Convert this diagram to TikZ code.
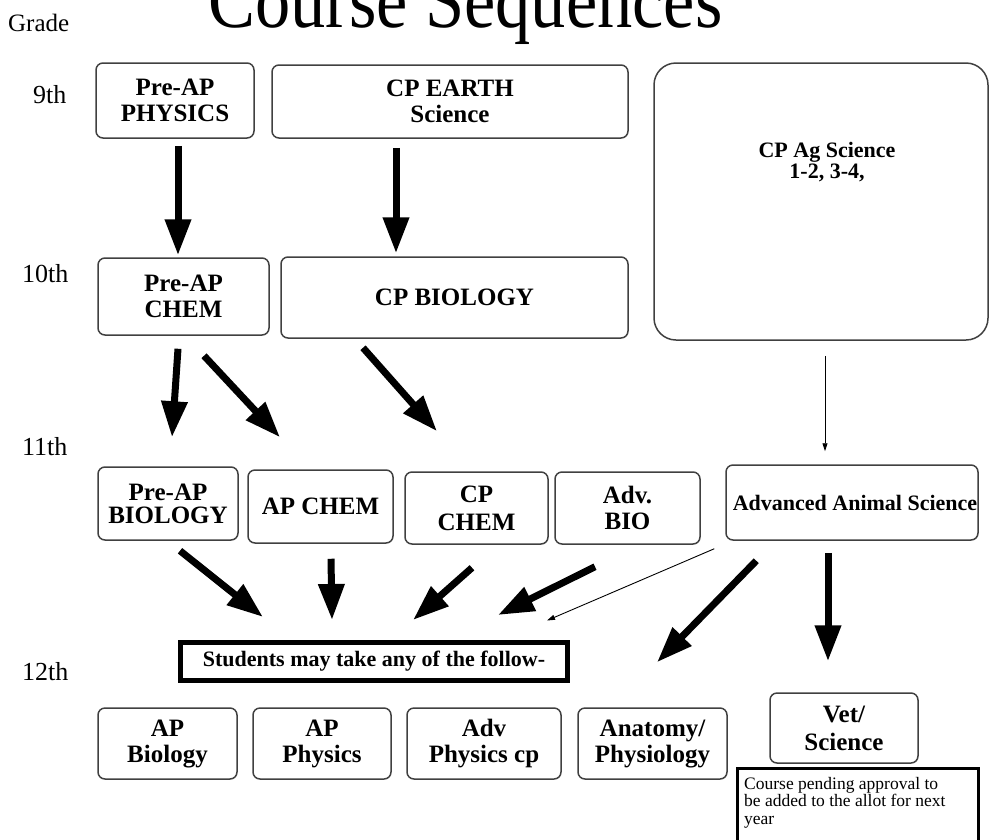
\documentclass[tikz,border=0pt]{standalone}
\usepackage{fontspec}
\setmainfont{Liberation Serif}
\usetikzlibrary{arrows.meta}
\begin{document}
\tikzset{
  box/.style={draw=black!75, line width=1.5pt, rounded corners=7pt, inner sep=0pt,
    align=center, font=\fontsize{25}{26}\selectfont\bfseries},
  gradelbl/.style={font=\fontsize{26}{26}\selectfont, inner sep=0pt, anchor=base west},
  bigarrow/.style={line width=7pt, -{Triangle[length=36pt,width=25pt]}},
  thinarrow/.style={line width=0.9pt, -{Triangle[length=8pt,width=5pt]}},
}
\begin{tikzpicture}[x=1pt,y=-1pt]
\useasboundingbox (0,0) rectangle (993,839);
\clip (0,0) rectangle (993,839);
% title and grade labels
\node[anchor=base west, inner sep=0pt] (title) at (208,27) {\scalebox{0.88}[1]{\fontsize{80}{80}\selectfont Course Sequences}};
\node[gradelbl, font=\fontsize{25}{25}\selectfont] (grade) at (8,31) {Grade};
\node[gradelbl] (g9) at (33,103) {9th};
\node[gradelbl] (g10) at (22,282) {10th};
\node[gradelbl] (g11) at (22,455) {11th};
\node[gradelbl] (g12) at (22,680) {12th};
% 9th
\node[box, minimum width=158, minimum height=75] (A) at (175,100.5) {Pre-AP\\PHYSICS};
\node[box, minimum width=356, minimum height=73] (B) at (450,101.5) {CP EARTH\\Science};
\node[box, rounded corners=22pt, minimum width=334, minimum height=277] (C) at (821,201.5) {};
\node[inner sep=0pt, align=center, font=\fontsize{22}{18}\selectfont\bfseries] (Ct) at (827,162) {CP Ag Science\\1-2, 3-4,};
% 10th
\node[box, minimum width=171, minimum height=77] (D) at (183.5,296.5) {Pre-AP\\CHEM};
\node[box, minimum width=347, minimum height=81] (E) at (454.5,297.5) {CP BIOLOGY};
% 11th
\node[box, minimum width=140, minimum height=73, font=\fontsize{25}{23}\selectfont\bfseries] (F) at (168,503.5) {Pre-AP\\BIOLOGY};
\node[box, minimum width=145, minimum height=73] (G) at (320.5,506.5) {AP CHEM};
\node[box, minimum width=143, minimum height=72, font=\fontsize{25}{28}\selectfont\bfseries] (H) at (476.5,508) {CP\\CHEM};
\node[box, minimum width=145, minimum height=72] (I) at (627.5,508) {Adv.\\BIO};
\node[box, minimum width=252, minimum height=75, font=\fontsize{22}{24}\selectfont\bfseries] (J) at (852,502.5) {\hspace*{6pt}Advanced Animal Science};
% students box
\node[draw=black, line width=5pt, inner sep=0pt, minimum width=387, minimum height=38,
  font=\fontsize{22}{24}\selectfont\bfseries] (K) at (374,661.5) {Students may take any of the follow-};
% 12th
\node[box, minimum width=139, minimum height=71] (L) at (167.5,743.5) {AP\\Biology};
\node[box, minimum width=138, minimum height=71] (M) at (322,743.5) {AP\\Physics};
\node[box, minimum width=154, minimum height=71] (N) at (484,743.5) {Adv\\Physics cp};
\node[box, minimum width=149, minimum height=71] (O) at (652.5,743.5) {Anatomy/\\Physiology};
\node[box, minimum width=148, minimum height=70, font=\fontsize{25}{28}\selectfont\bfseries] (P) at (844,728) {Vet/\\Science};
\node[draw=black, line width=3pt, inner sep=0pt, anchor=north west, minimum width=241, minimum height=90] (Q) at (736,767) {};
\node[inner sep=0pt, anchor=north west, align=left, font=\fontsize{17.5}{17.5}\selectfont] (Qt) at ([xshift=8pt,yshift=-10pt]Q.north west) {Course pending approval to\\be added to the allot for next\\year};
% arrows 9 -> 10
\draw[bigarrow] ([xshift=3pt,yshift=-7pt]A.south) -- ([xshift=-5.5pt,yshift=2pt]D.north);
\draw[bigarrow] ([xshift=-54pt,yshift=-9pt]B.south) -- ([xshift=-58.5pt,yshift=3pt]E.north);
% arrows 10 -> 11
\draw[bigarrow] ([xshift=-5.5pt,yshift=-13pt]D.south) -- ([xshift=4pt,yshift=29pt]F.north);
\draw[bigarrow] ([xshift=20.5pt,yshift=-20pt]D.south) -- ([xshift=-40.5pt,yshift=32pt]G.north);
\draw[bigarrow] ([xshift=-91.5pt,yshift=-9pt]E.south) -- ([xshift=-39.5pt,yshift=40pt]H.north);
\draw[thinarrow] ([xshift=4pt,yshift=-15pt]C.south) -- ([xshift=-27pt,yshift=13pt]J.north);
% arrows 11 -> 12
\draw[bigarrow] ([xshift=12pt,yshift=-10pt]F.south) -- ([xshift=-111pt,yshift=23pt]K.north);
\draw[bigarrow] ([xshift=10.5pt,yshift=-15pt]G.south) -- ([xshift=-42pt,yshift=20pt]K.north);
\draw[bigarrow] ([xshift=-4.5pt,yshift=-23pt]H.south) -- ([xshift=39pt,yshift=20pt]K.north);
\draw[bigarrow] ([xshift=-32.5pt,yshift=-22pt]I.south) -- ([xshift=124pt,yshift=25pt]K.north);
\draw[thinarrow] ([xshift=-11pt,yshift=-8pt]J.south west) -- ([xshift=173pt,yshift=19.5pt]K.north);
\draw[bigarrow] ([xshift=31pt,yshift=-20pt]J.south west) -- ([xshift=4.5pt,yshift=45pt]O.north);
\draw[bigarrow] ([xshift=-24pt,yshift=-12pt]J.south) -- ([xshift=-16pt,yshift=31pt]P.north);
\end{tikzpicture}
\end{document}
